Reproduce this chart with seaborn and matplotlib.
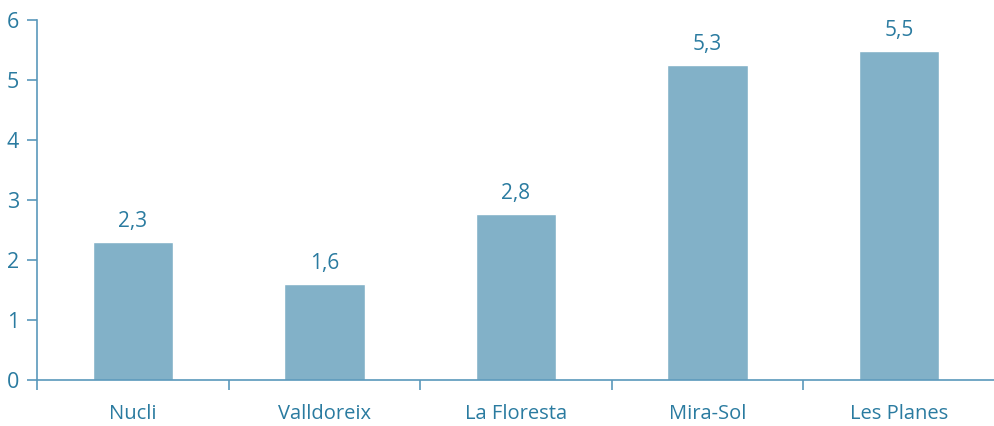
import seaborn as sns
import matplotlib.pyplot as plt
import pandas as pd

barris = ["Nucli", "Valldoreix", "La Floresta", "Mira-Sol", "Les Planes"]
valors = [2.3, 1.6, 2.77, 5.25, 5.48]
etiquetes = ["2,3", "1,6", "2,8", "5,3", "5,5"]

bar_color = "#82b1c8"
text_color = "#2a7ba0"
axis_color = "#5a98bb"

sns.set_style("white")
plt.rcParams["font.family"] = ["Open Sans", "DejaVu Sans"]

df = pd.DataFrame({"barri": barris, "valor": valors})

fig = plt.figure(figsize=(9.95, 4.26), dpi=100)
ax = fig.add_axes([0.0372, 0.108, 0.9628, 0.845])
sns.barplot(data=df, x="barri", y="valor", color=bar_color, width=0.42,
            saturation=1, ax=ax)

for i, (v, t) in enumerate(zip(valors, etiquetes)):
    ax.text(i, v + 0.17, t, ha="center", va="bottom", fontsize=15, color=text_color)

ax.set_xlim(-0.5, 4.5)
ax.set_ylim(0, 6)
ax.set_yticks(range(0, 7))
ax.set_xlabel("")
ax.set_ylabel("")
ax.set_xticks([x - 0.5 for x in range(5)], minor=True)

sns.despine(ax=ax)
for side in ["left", "bottom"]:
    ax.spines[side].set_color(axis_color)
    ax.spines[side].set_linewidth(1.2)

ax.tick_params(axis="x", which="major", bottom=True, length=0, pad=17,
               labelsize=14.5, colors=text_color)
ax.tick_params(axis="x", which="minor", bottom=True, length=7, width=1.2,
               color=axis_color, direction="out")
ax.tick_params(axis="y", left=True, length=7, width=1.2, color=axis_color,
               labelsize=15.5, labelcolor=text_color, pad=6, direction="out")

fig.savefig("out.png", dpi=100)
plt.close(fig)
